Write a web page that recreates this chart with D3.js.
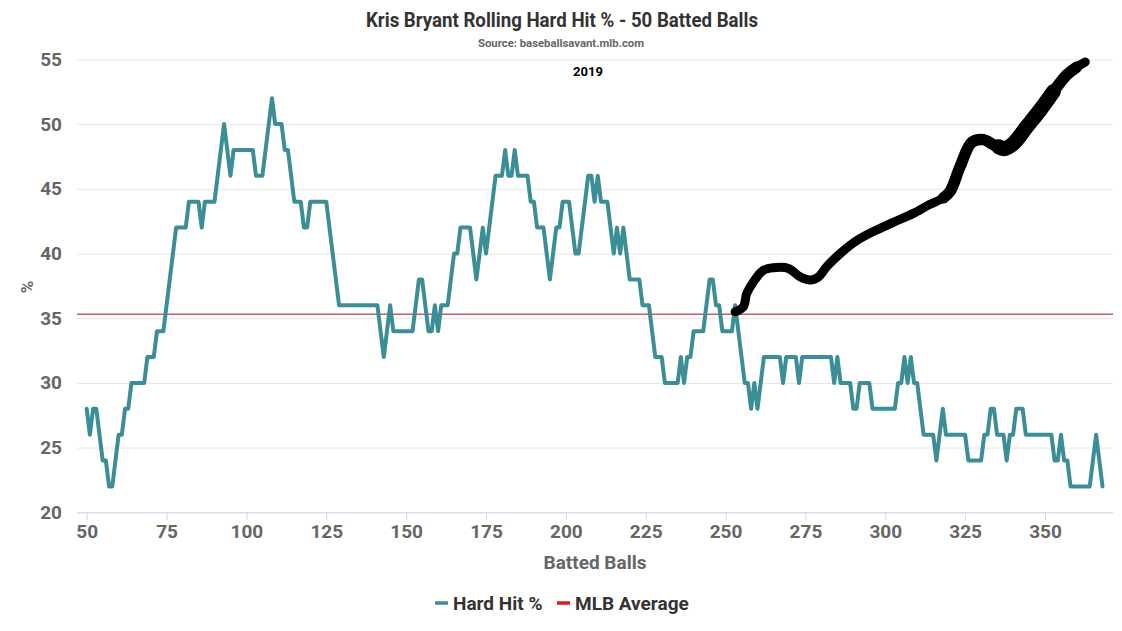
<!DOCTYPE html>
<html><head><meta charset="utf-8">
<script src="https://cdn.jsdelivr.net/npm/d3@7"></script>
<style>body{margin:0;background:#fff;}svg{display:block;font-family:Roboto,"Noto Sans",sans-serif;}</style>
</head><body><svg id="chart" width="1122" height="631"></svg>
<script>
// ---- data ----
const titleText = "Kris Bryant Rolling Hard Hit % - 50 Batted Balls";
const subtitleText = "Source: baseballsavant.mlb.com";
const yearLabel = "2019";
const xTicks = [50, 75, 100, 125, 150, 175, 200, 225, 250, 275, 300, 325, 350];
const yTicks = [20, 25, 30, 35, 40, 45, 50, 55];
const seriesNames = ["Hard Hit %", "MLB Average"];
const mlbAverage = 35.3;
// turning points of the rolling hard-hit % (batted ball number, %)
const hardHitBall = [50,51,52,53,55,56,57,58,60,61,62,63,64,68,69,71,72,74,78,81,82,85,86,87,90,93,95,96,102,103,105,108,109,111,112,113,115,117,118,119,120,125,129,141,143,145,146,152,154,155,157,158,159,160,161,163,165,166,167,170,172,174,175,178,180,181,182,183,184,185,188,189,190,191,193,195,197,198,199,201,203,204,207,208,209,210,211,213,215,216,217,218,220,223,224,226,228,230,231,235,236,237,238,239,240,243,245,246,247,248,249,252,253,256,257,258,259,260,262,267,268,269,272,273,274,283,284,285,286,289,290,291,292,295,296,303,304,305,306,307,308,309,310,312,315,316,318,319,325,326,330,331,332,333,334,335,337,338,339,340,341,343,344,352,353,354,355,356,357,358,364,366,368];
const hardHitPct = [28,26,28,28,24,24,22,22,26,26,28,28,30,30,32,32,34,34,42,42,44,44,42,44,44,50,46,48,48,46,46,52,50,50,48,48,44,44,42,42,44,44,36,36,32,36,34,34,38,38,34,34,36,34,36,36,40,40,42,42,38,42,40,46,46,48,46,46,48,46,46,44,44,42,42,38,42,42,44,44,40,40,46,46,44,46,44,44,40,42,40,42,38,38,36,36,32,32,30,30,32,30,32,32,34,34,38,38,36,36,34,34,36,30,30,28,30,28,32,32,30,32,32,30,32,32,30,32,30,30,28,28,30,30,28,28,30,30,32,30,32,30,30,26,26,24,28,26,26,24,24,26,26,28,28,26,26,24,26,26,28,28,26,26,24,24,26,24,24,22,22,26,22];
// hand-drawn black annotation stroke
const annotBall = [253.0,255.6,256.6,258.7,261.8,265.0,269.7,273.3,276.5,279.1,281.7,285.9,291.1,296.3,302.5,308.8,314.0,318.2,320.3,323.4,327.1,330.7,333.9,337.0,340.1,344.3,348.5,352.6,356.8,359.9,362.6];
const annotPct  = [35.5,35.9,36.9,37.8,38.7,38.9,38.85,38.2,37.95,38.2,39.0,40.0,41.0,41.7,42.4,43.1,43.8,44.3,44.8,46.7,48.6,48.8,48.4,48.1,48.5,49.8,51.1,52.5,53.8,54.4,54.8];
// sections of the annotation drawn with a heavier pen
const annotMidBall = [318.2,320.3,323.4,327.1,330.7,333.9,337.0,340.1,344.3,348.5,352.6,356.8,359.9];
const annotMidPct  = [44.3,44.8,46.7,48.6,48.8,48.4,48.1,48.5,49.8,51.1,52.5,53.8,54.4];
const annotThickBall = [335.5,337.0,340.1,344.3,348.5,352.6];
const annotThickPct  = [48.25,48.1,48.5,49.8,51.1,52.5];

// ---- colours ----
const teal = "#3b8d96", red = "#e01a22", avgLine = "#c06066";

const svg = d3.select("#chart");
const plotL = 77, plotR = 1113;
const x = d3.scaleLinear().domain([50, 350]).range([86.7, 1045]);
const y = d3.scaleLinear().domain([20, 55]).range([512.3, 59.4]);

// gridlines
const gy = svg.append("g").attr("transform", `translate(${plotL},0)`)
  .call(d3.axisLeft(y).tickValues(yTicks).tickSize(-(plotR - plotL)).tickFormat(""));
gy.select(".domain").remove();
gy.selectAll(".tick line").attr("stroke", "#e6e6e6").attr("stroke-width", 1);

// y labels
const yl = svg.append("g").attr("transform", `translate(62,0)`)
  .call(d3.axisLeft(y).tickValues(yTicks).tickSize(0).tickPadding(0));
yl.select(".domain").remove();
yl.selectAll("text").attr("font-family", "Roboto").attr("font-weight", "bold")
  .attr("font-size", 19).attr("fill", "#666");

// x axis
const xa = svg.append("g").attr("transform", `translate(0,${y(20)})`)
  .call(d3.axisBottom(x).tickValues(xTicks).tickSize(8).tickPadding(4));
xa.select(".domain").attr("d", `M${plotL},0.5H${plotR}`).attr("stroke", "#ccd6eb");
xa.selectAll(".tick line").attr("stroke", "#ccd6eb");
xa.selectAll("text").attr("font-family", "Roboto").attr("font-weight", "bold")
  .attr("font-size", 19).attr("fill", "#666");

// MLB average line
svg.append("line").attr("x1", plotL).attr("x2", plotR)
  .attr("y1", y(mlbAverage)).attr("y2", y(mlbAverage))
  .attr("stroke", avgLine).attr("stroke-width", 1.5);

// hard hit line
const hhData = hardHitBall.map((b, i) => [b, hardHitPct[i]]);
svg.append("path").datum(hhData)
  .attr("fill", "none").attr("stroke", teal).attr("stroke-width", 4)
  .attr("stroke-linejoin", "round").attr("stroke-linecap", "round")
  .attr("d", d3.line().x(d => x(d[0])).y(d => y(d[1])));

// annotation stroke
const annLine = d3.line().x(d => x(d[0])).y(d => y(d[1])).curve(d3.curveCatmullRom);
const layers = [
  {b: annotBall, p: annotPct, w: 9},
  {b: annotMidBall, p: annotMidPct, w: 11.5},
  {b: annotThickBall, p: annotThickPct, w: 15}
];
layers.forEach(L => {
  svg.append("path").datum(L.b.map((b, i) => [b, L.p[i]]))
    .attr("fill", "none").attr("stroke", "#000").attr("stroke-width", L.w)
    .attr("stroke-linejoin", "round").attr("stroke-linecap", "round").attr("d", annLine);
});

// titles
svg.append("text").attr("x", 562).attr("y", 27).attr("text-anchor", "middle")
  .attr("font-family", "Roboto").attr("font-weight", "bold").attr("font-size", 20)
  .attr("fill", "#333").attr("textLength", 392).attr("lengthAdjust", "spacingAndGlyphs")
  .text(titleText);
svg.append("text").attr("x", 561).attr("y", 47).attr("text-anchor", "middle")
  .attr("font-family", "Roboto").attr("font-weight", "bold").attr("font-size", 10.5)
  .attr("fill", "#666").attr("textLength", 166).attr("lengthAdjust", "spacingAndGlyphs")
  .text(subtitleText);
svg.append("text").attr("x", 588).attr("y", 76).attr("text-anchor", "middle")
  .attr("font-family", "Roboto").attr("font-weight", "bold").attr("font-size", 13)
  .attr("fill", "#000").text(yearLabel);

// axis titles
svg.append("text").attr("x", 595).attr("y", 569).attr("text-anchor", "middle")
  .attr("font-family", "Roboto").attr("font-weight", "bold").attr("font-size", 19)
  .attr("fill", "#666").text("Batted Balls");
svg.append("text").attr("transform", `translate(33,287) rotate(-90)`).attr("text-anchor", "middle")
  .attr("font-family", "Roboto").attr("font-weight", "bold").attr("font-size", 17)
  .attr("fill", "#666").text("%");

// legend
const legend = [{name: seriesNames[0], color: teal, x: 435}, {name: seriesNames[1], color: red, x: 557}];
const lg = svg.selectAll(".lg").data(legend).enter().append("g")
  .attr("transform", d => `translate(${d.x},603)`);
lg.append("line").attr("x1", 0).attr("x2", 13).attr("y1", 0).attr("y2", 0)
  .attr("stroke", d => d.color).attr("stroke-width", 3.5);
lg.append("text").attr("x", 18).attr("y", 7).attr("font-family", "Roboto").attr("font-weight", "bold")
  .attr("font-size", 19).attr("fill", "#333").text(d => d.name);
</script></body></html>
